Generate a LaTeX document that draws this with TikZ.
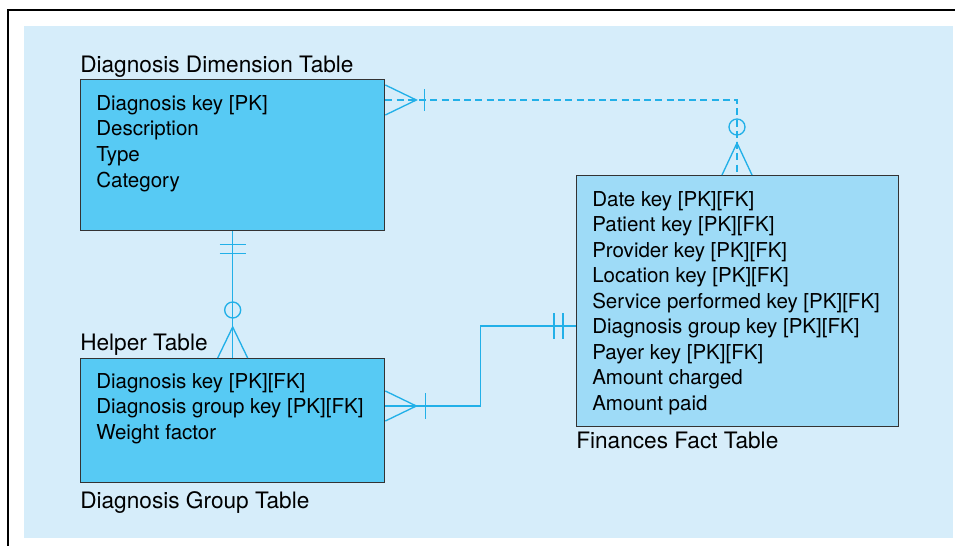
\documentclass[tikz,border=0pt]{standalone}
\usepackage{fontspec}
\setmainfont{TeX Gyre Heros}
\usetikzlibrary{calc}
\definecolor{panel}{HTML}{D6EDFA}
\definecolor{dimblue}{HTML}{57CAF4}
\definecolor{factblue}{HTML}{9EDBF7}
\definecolor{relblue}{HTML}{22B0E8}
\begin{document}
\begin{tikzpicture}[x=0.025cm, y=-0.025cm,
      tab/.style={draw=black!80, line width=0.9pt, anchor=north west, inner sep=0pt},
      field/.style={anchor=base west, inner sep=0pt, font=\fontsize{14.6}{17}\selectfont},
      title/.style={anchor=base west, inner sep=0pt, font=\fontsize{16.1}{19}\selectfont},
      rel/.style={draw=relblue, line width=0.95pt}]
    \useasboundingbox (0,0) rectangle (955,546);
    \fill[panel] (24,26) rectangle (953,538);
    \draw[line width=1pt] (8,546) -- (8,10) -- (955,10);
    % tables
    \node[tab, fill=dimblue, minimum width=7.6cm, minimum height=3.775cm] (dim) at (80,79) {};
    \node[tab, fill=dimblue, minimum width=7.6cm, minimum height=3.1cm] (help) at (80,358) {};
    \node[tab, fill=factblue, minimum width=8.05cm, minimum height=6.275cm] (fact) at (576,175) {};
    \node[title] (dimtitle)   at ($(dim.north west)+(0,-7)$) {Diagnosis Dimension Table};
    \node[title] (helptitle)  at ($(help.north west)+(0,-8)$) {Helper Table};
    \node[title] (grouptitle) at ($(help.south west)+(0,25)$) {Diagnosis Group Table};
    \node[title] (facttitle)  at ($(fact.south west)+(0,21)$) {Finances Fact Table};
    \foreach \f [count=\i from 0] in {{Diagnosis key [PK]}, Description, Type, Category}
      \node[field] (dim\i) at ($(dim.north west)+(16,31+25.8*\i)$) {\f};
    \foreach \f [count=\i from 0] in {{Diagnosis key [PK][FK]}, {Diagnosis group key [PK][FK]}, Weight factor}
      \node[field] (help\i) at ($(help.north west)+(16,30+25.8*\i)$) {\f};
    \foreach \f [count=\i from 0] in {{Date key [PK][FK]}, {Patient key [PK][FK]}, {Provider key [PK][FK]},
        {Location key [PK][FK]}, {Service performed key [PK][FK]}, {Diagnosis group key [PK][FK]},
        {Payer key [PK][FK]}, Amount charged, Amount paid}
      \node[field] (fact\i) at ($(fact.north west)+(16,31+25.5*\i)$) {\f};
    % dimension -- fact
    \coordinate (dimR) at ($(dim.north east)+(0,21)$);
    \coordinate (factT) at ($(fact.north west)+(161,0)$);
    \draw[rel, dashed, dash pattern=on 5pt off 3pt] (dimR) -- (dimR -| factT) -- (factT);
    \draw[rel] ($(dimR)+(0,-15)$) -- ($(dimR)+(31,0)$) -- ($(dimR)+(0,15)$);
    \draw[rel] ($(dimR)+(39,-11)$) -- ($(dimR)+(39,11)$);
    \draw[rel] ($(factT)+(-15,0)$) -- ($(factT)+(0,-32)$) -- ($(factT)+(15,0)$);
    \draw[rel] ($(factT)+(0,-48)$) circle[radius=0.2cm];
    % dimension -- helper
    \draw[rel] (dim.south) -- (help.north);
    \draw[rel] ($(dim.south)+(-13,13)$) -- ($(dim.south)+(13,13)$);
    \draw[rel] ($(dim.south)+(-13,22)$) -- ($(dim.south)+(13,22)$);
    \draw[rel] ($(help.north)+(0,-48)$) circle[radius=0.2cm];
    \draw[rel] ($(help.north)+(-15,0)$) -- ($(help.north)+(0,-31)$) -- ($(help.north)+(15,0)$);
    % helper -- fact
    \coordinate (helpR) at ($(help.north east)+(0,48)$);
    \coordinate (factL) at ($(fact.north west)+(0,151)$);
    \draw[rel] (helpR) -| ($(helpR)!.5!(factL)$) |- (factL);
    \draw[rel] ($(helpR)+(0,-15)$) -- ($(helpR)+(31,0)$) -- ($(helpR)+(0,15)$);
    \draw[rel] ($(helpR)+(40,-13)$) -- ($(helpR)+(40,13)$);
    \draw[rel] ($(factL)+(-22,-13)$) -- ($(factL)+(-22,13)$);
    \draw[rel] ($(factL)+(-13,-13)$) -- ($(factL)+(-13,13)$);
  \end{tikzpicture}
\end{document}
